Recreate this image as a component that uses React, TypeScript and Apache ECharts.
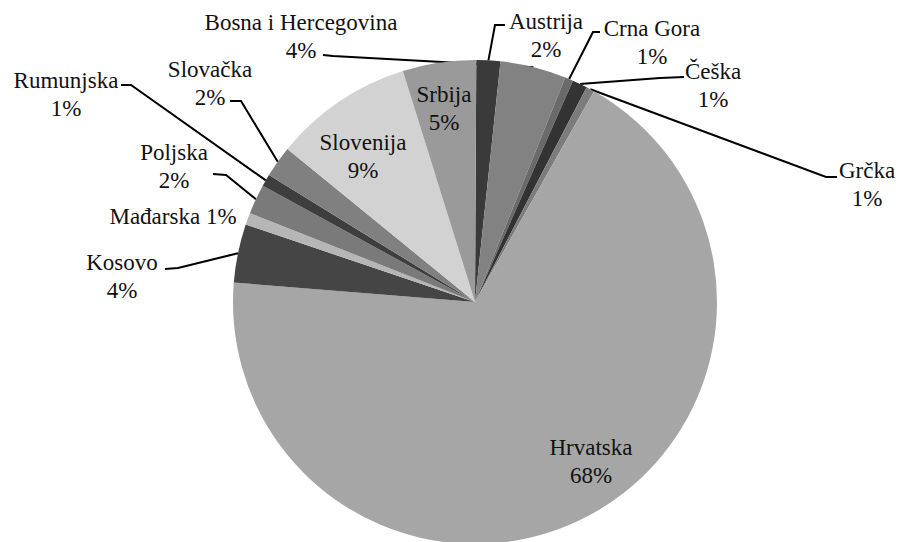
import { useEffect, useRef } from "react";
import * as echarts from "echarts";

// ---- data ----
const categories = [
  "Austrija",
  "Bosna i Hercegovina",
  "Crna Gora",
  "Češka",
  "Grčka",
  "Hrvatska",
  "Kosovo",
  "Mađarska",
  "Poljska",
  "Rumunjska",
  "Slovačka",
  "Slovenija",
  "Srbija",
];
const shares = [1.6, 4.4, 0.55, 1.0, 0.55, 68.1, 3.9, 0.8, 2.0, 0.8, 2.1, 9.3, 4.9];
const sliceColors = [
  "#3a3a3a",
  "#828282",
  "#6a6a6a",
  "#333333",
  "#7c7c7c",
  "#a6a6a6",
  "#454545",
  "#b6b6b6",
  "#7a7a7a",
  "#3e3e3e",
  "#808080",
  "#d2d2d2",
  "#9a9a9a",
];
const insideLabels = ["Hrvatska", "Slovenija", "Srbija"];
const inlineLabels = ["Mađarska"];

const FONT = "Liberation Serif";

// ---- label placement (text block centre, leader bend and end) ----
type Pt = [number, number];
const LABEL_LAYOUT: Record<string, { x: number; y: number; line?: [Pt, Pt] }> = {
  "Austrija": { x: 546, y: 35, line: [[495, 25], [505, 25]] },
  "Bosna i Hercegovina": { x: 301, y: 36, line: [[333, 56], [323, 55]] },
  "Crna Gora": { x: 652, y: 42, line: [[593, 32], [600, 32]] },
  "Češka": { x: 713, y: 85, line: [[660, 78], [684, 77]] },
  "Grčka": { x: 867, y: 184, line: [[826, 177], [837, 177]] },
  "Hrvatska": { x: 591, y: 461 },
  "Kosovo": { x: 122, y: 276, line: [[178, 268], [165, 269]] },
  "Mađarska": { x: 173, y: 216 },
  "Poljska": { x: 174, y: 166, line: [[226, 175], [213, 174]] },
  "Rumunjska": { x: 66, y: 94, line: [[131, 85], [121, 85]] },
  "Slovačka": { x: 210, y: 83, line: [[241, 101], [230, 101]] },
  "Slovenija": { x: 363, y: 156 },
  "Srbija": { x: 444, y: 108 },
};

export default function App() {
  const ref = useRef<HTMLDivElement>(null);
  useEffect(() => {
    if (!ref.current) return;
    const chart = echarts.init(ref.current, null, { renderer: "svg" });
    const labelText = {
      color: "#111111",
      fontFamily: FONT,
      fontSize: 23,
      lineHeight: 28,
    };
    chart.setOption({
      animation: false,
      backgroundColor: "#ffffff",
      textStyle: { fontFamily: FONT },
      series: [
        {
          type: "pie",
          center: [475, 302],
          radius: 242,
          startAngle: 89.7,
          clockwise: true,
          avoidLabelOverlap: false,
          itemStyle: { borderWidth: 0 },
          emphasis: { disabled: true },
          label: {
            show: true,
            ...labelText,
            align: "center",
            rich: { t: { ...labelText, align: "center" } },
            formatter: (p: any) => {
              const pct = Math.round(p.percent);
              return inlineLabels.includes(p.name)
                ? `{t|${p.name} ${pct}%}`
                : `{t|${p.name}}\n{t|${pct}%}`;
            },
          },
          labelLine: {
            show: true,
            smooth: false,
            length: 15,
            length2: 10,
            lineStyle: { color: "#000000", width: 2 },
          },
          labelLayout: (params: any) => {
            const name = categories[params.dataIndex];
            const L = LABEL_LAYOUT[name];
            const out: any = {
              x: L.x,
              y: L.y,
              align: "center",
              verticalAlign: "middle",
            };
            if (L.line && params.labelLinePoints) {
              out.labelLinePoints = [params.labelLinePoints[0], L.line[0], L.line[1]];
            }
            return out;
          },
          data: categories.map((name, i) => {
            const inside = insideLabels.includes(name);
            const inline = inlineLabels.includes(name);
            return {
              name,
              value: shares[i],
              itemStyle: { color: sliceColors[i] },
              label: { position: inside ? "inside" : "outside" },
              labelLine: { show: !inside && !inline },
            };
          }),
        },
      ],
    });
    return () => chart.dispose();
  }, []);
  return (
    <div
      ref={ref}
      style={{ position: "absolute", left: 0, top: 0, width: 900, height: 542 }}
    />
  );
}
